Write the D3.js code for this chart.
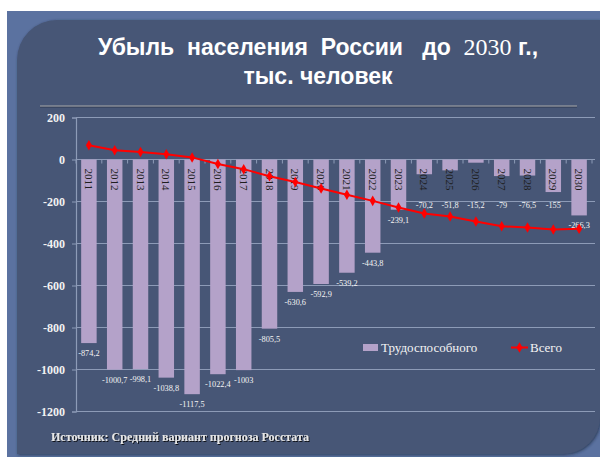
<!DOCTYPE html>
<html><head><meta charset="utf-8">
<script src="https://cdn.jsdelivr.net/npm/d3@7"></script>
<style>html,body{margin:0;padding:0;background:#fff;}svg{display:block;}</style>
</head><body>
<svg id="c" width="600" height="457"></svg>
<script>
const years = ["2011","2012","2013","2014","2015","2016","2017","2018","2019","2020","2021","2022","2023","2024","2025","2026","2027","2028","2029","2030"];
const working = [-874.2,-1000.7,-998.1,-1038.8,-1117.5,-1022.4,-1003,-805.5,-630.6,-592.9,-539.2,-443.8,-239.1,-70.2,-51.8,-15.2,-79,-76.5,-155,-266.3];
const total = [68,44,36,25,10,-21,-46,-80,-107,-138,-168,-197,-229,-257,-271,-295,-318,-324,-333,-330];
const yTicks = [200,0,-200,-400,-600,-800,-1000,-1200];
const titleParts = [["Убыль  населения  России   до  ","sans"],["2030","serif"],[" г.,","sans"]];
const titleLine2 = "тыс. человек";
const seriesNames = ["Трудоспособного","Всего"];
const sourceText = "Источник: Средний вариант прогноза Росстата";

const svg = d3.select("#c");
const defs = svg.append("defs");
const f = defs.append("filter").attr("id","sh").attr("x","-5%").attr("y","-5%").attr("width","110%").attr("height","110%");
f.append("feDropShadow").attr("dx",1).attr("dy",1).attr("stdDeviation",1.5).attr("flood-color","#1c2640").attr("flood-opacity",0.7);
const ts = defs.append("filter").attr("id","tsh");
ts.append("feDropShadow").attr("dx",1).attr("dy",1).attr("stdDeviation",0.6).attr("flood-color","#000").attr("flood-opacity",0.8);

// background frame
svg.append("rect").attr("x",0).attr("y",0).attr("width",600).attr("height",457).attr("fill","#fff");
svg.append("rect").attr("x",7).attr("y",11).attr("width",593).attr("height",446).attr("fill","#5b72a0");
svg.append("path").attr("d","M17,60 A40,40 0 0 1 57,20 H600 V417 A37,37 0 0 1 563,454 H17 Z")
  .attr("fill","#475676").attr("filter","url(#sh)");

// title
const sansF = "Liberation Sans, Arial, sans-serif", serifF = "Liberation Serif, serif";
const t1 = svg.append("text").attr("x",318).attr("y",55).attr("text-anchor","middle").attr("fill","#fff")
  .attr("font-weight","bold").attr("font-size",23).style("white-space","pre");
t1.selectAll("tspan").data(titleParts).join("tspan")
  .attr("font-family",d=>d[1]==="serif"?serifF:sansF)
  .attr("font-weight",d=>d[1]==="serif"?"normal":"bold")
  .attr("font-size",d=>d[1]==="serif"?24:23).text(d=>d[0]);
svg.append("text").attr("x",318).attr("y",83.5).attr("text-anchor","middle").attr("fill","#fff")
  .attr("font-family",sansF).attr("font-weight","bold").attr("font-size",23).text(titleLine2);

// separator line
svg.append("line").attr("x1",40).attr("x2",577).attr("y1",107).attr("y2",107).attr("stroke","#2e3850").attr("stroke-width",1);
svg.append("line").attr("x1",40).attr("x2",577).attr("y1",106).attr("y2",106).attr("stroke","#a8a8a8").attr("stroke-width",1.2);

// scales
const x = d3.scaleBand().domain(years).range([76,592]).paddingInner(0.4).paddingOuter(0.2);
const y = d3.scaleLinear().domain([-1200,200]).range([411.5,117.5]);
const gridColor = "#8d9bb7";

// gridlines
svg.append("g").selectAll("line").data(yTicks).join("line")
  .attr("x1",76).attr("x2",595).attr("y1",d=>y(d)).attr("y2",d=>y(d))
  .attr("stroke",gridColor).attr("stroke-width",1.2);

// y axis
const yAxis = svg.append("g").attr("transform","translate(76,0)")
  .call(d3.axisLeft(y).tickValues(yTicks).tickSize(4).tickPadding(7).tickFormat(d=>String(d)));
yAxis.select(".domain").attr("stroke",gridColor).attr("stroke-width",1.2);
yAxis.selectAll(".tick line").attr("stroke",gridColor);
yAxis.selectAll(".tick text").attr("fill","#f2f2f2").attr("font-family",serifF)
  .attr("font-weight","bold").attr("font-size",12);

// bars
svg.append("g").selectAll("rect").data(working).join("rect")
  .attr("x",(d,i)=>x(years[i])).attr("width",x.bandwidth())
  .attr("y",y(0)).attr("height",d=>y(d)-y(0)).attr("fill","#b4a2c9");

// x ticks on zero line
const step = x.step();
svg.append("g").selectAll("line").data(d3.range(years.length+1)).join("line")
  .attr("x1",i=>76+i*step).attr("x2",i=>76+i*step).attr("y1",y(0)).attr("y2",y(0)+4)
  .attr("stroke",gridColor).attr("stroke-width",1);

// year labels rotated inside bars
svg.append("g").selectAll("text").data(years).join("text")
  .attr("transform",d=>`translate(${x(d)+x.bandwidth()/2},${y(0)+9}) rotate(90)`)
  .attr("dy","0.35em").attr("text-anchor","start")
  .attr("font-family",serifF).attr("font-size",11).attr("fill","#1e1e1e").text(d=>d);

// value labels
const fmt = v => String(v).replace(".",",");
svg.append("g").selectAll("text").data(working).join("text")
  .attr("x",(d,i)=>x(years[i])+x.bandwidth()/2)
  .attr("y",d=>Math.max(y(d)+10, y(-215)))
  .attr("dy","0.35em").attr("text-anchor","middle")
  .attr("font-family",serifF).attr("font-size",8.3).attr("fill","#f4f4f4").text(fmt);

// line
const line = d3.line().x((d,i)=>x(years[i])+x.bandwidth()/2).y(d=>y(d));
svg.append("path").datum(total).attr("d",line).attr("fill","none").attr("stroke","#ff0000").attr("stroke-width",2);
svg.append("g").selectAll("path").data(total).join("path")
  .attr("transform",(d,i)=>`translate(${x(years[i])+x.bandwidth()/2},${y(d)})`)
  .attr("d",d3.symbol(d3.symbolDiamond,32)).attr("fill","#ff0000");

// legend
const lg = svg.append("g").attr("font-family",serifF).attr("font-size",13).attr("fill","#f4f4f4");
lg.append("rect").attr("x",363).attr("y",344).attr("width",15).attr("height",7).attr("fill","#b4a2c9");
lg.append("text").attr("x",381).attr("y",347.5).attr("dy","0.35em").text(seriesNames[0]);
lg.append("line").attr("x1",511).attr("x2",528).attr("y1",347.5).attr("y2",347.5).attr("stroke","#ff0000").attr("stroke-width",2);
lg.append("path").attr("transform","translate(519.5,347.5)").attr("d",d3.symbol(d3.symbolDiamond,32)).attr("fill","#ff0000");
lg.append("text").attr("x",530).attr("y",347.5).attr("dy","0.35em").text(seriesNames[1]);

// source
svg.append("text").attr("x",51).attr("y",441).attr("font-family",serifF).attr("font-weight","bold")
  .attr("font-size",12).attr("fill","#e6e6e6").attr("filter","url(#tsh)").text(sourceText);
</script>
</body></html>
